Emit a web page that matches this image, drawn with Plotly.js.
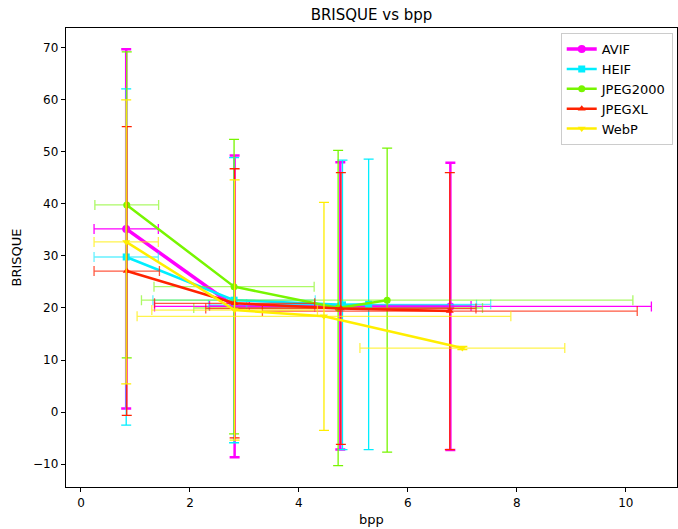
<!DOCTYPE html>
<html>
<head>
<meta charset="utf-8">
<script src="https://cdn.plot.ly/plotly-3.0.1.min.js"></script>
<style>html,body{margin:0;padding:0;background:#fff;}#chart{width:678px;height:529px;}</style>
</head>
<body>
<div id="chart"></div>
<script>
const seriesNames = ["AVIF", "HEIF", "JPEG2000", "JPEGXL", "WebP"];

const avifX = [0.83, 2.82, 4.76, 6.78];
const avifY = [35.2, 20.3, 20.4, 20.3];
const avifXErr = [0.59, 1.47, 2.4, 3.69];
const avifYErr = [34.5, 29.0, 27.6, 27.6];

const heifX = [0.83, 2.81, 4.80, 5.28];
const heifY = [29.8, 21.5, 20.6, 20.7];
const heifXErr = [0.59, 1.49, 2.46, 2.24];
const heifYErr = [32.3, 27.4, 27.8, 27.9];

const j2kX = [0.84, 2.81, 4.72, 5.62];
const j2kY = [39.8, 24.1, 20.0, 21.5];
const j2kXErr = [0.585, 1.47, 2.65, 4.51];
const j2kYErr = [29.4, 28.3, 30.3, 29.2];

const jxlX = [0.84, 2.82, 4.77, 6.77];
const jxlY = [27.1, 20.9, 19.9, 19.4];
const jxlXErr = [0.6, 1.47, 2.48, 3.44];
const jxlYErr = [27.75, 25.85, 26.1, 26.6];

const webpX = [0.83, 2.82, 4.46, 7.0];
const webpY = [32.7, 19.6, 18.4, 12.3];
const webpXErr = [0.59, 1.52, 3.43, 1.88];
const webpYErr = [27.3, 25.0, 21.9, 0.3];

const xTicks = [0, 2, 4, 6, 8, 10];
const yTicks = [-10, 0, 10, 20, 30, 40, 50, 60, 70];

function mk(name, x, y, xe, ye, color, light, symbol, msize, lw, ew) {
  return {
    type: "scatter", mode: "lines+markers", name: name,
    x: x, y: y,
    line: {color: color, width: lw},
    marker: {color: color, symbol: symbol, size: msize},
    error_x: {type: "data", array: xe, visible: true, color: light, thickness: 1.3, width: 5},
    error_y: {type: "data", array: ye, visible: true, color: color, thickness: ew, width: 5}
  };
}

const traces = [
  mk(seriesNames[0], avifX, avifY, avifXErr, avifYErr, "#ff00ff", "#ff00ff", "circle", 8, 3.5, 2.5),
  mk(seriesNames[1], heifX, heifY, heifXErr, heifYErr, "#00eeff", "rgba(0,230,255,0.6)", "square", 7, 2.5, 1.3),
  mk(seriesNames[2], j2kX, j2kY, j2kXErr, j2kYErr, "#77f500", "rgba(119,245,0,0.6)", "circle", 7, 2.5, 1.3),
  mk(seriesNames[3], jxlX, jxlY, jxlXErr, jxlYErr, "#ff2200", "rgba(255,34,0,0.75)", "triangle-up", 7, 2.5, 1.3),
  mk(seriesNames[4], webpX, webpY, webpXErr, webpYErr, "#ffee00", "rgba(255,238,0,0.7)", "triangle-down", 7, 2.5, 1.3)
];

const axisCommon = {
  showline: true, mirror: true, linecolor: "#000", linewidth: 1.2,
  ticks: "outside", ticklen: 4, tickcolor: "#000", tickwidth: 1,
  showgrid: false, zeroline: false,
  tickfont: {family: "DejaVu Sans", size: 12, color: "#000"}
};

const layout = {
  width: 678, height: 529,
  margin: {l: 66, r: 1, t: 28, b: 42},
  paper_bgcolor: "#fff", plot_bgcolor: "#fff",
  font: {family: "DejaVu Sans", color: "#000"},
  title: {text: "BRISQUE vs bpp", font: {family: "DejaVu Sans", size: 15, color: "#000"},
          x: 0.5, xref: "paper", xanchor: "center", y: 0.973, yref: "container", yanchor: "middle"},
  xaxis: Object.assign({}, axisCommon, {
    range: [-0.275, 10.94], tickvals: xTicks, ticktext: xTicks.map(String),
    title: {text: "bpp", font: {family: "DejaVu Sans", size: 13, color: "#000"}, standoff: 6}
  }),
  yaxis: Object.assign({}, axisCommon, {
    range: [-14.4, 73.8], tickvals: yTicks, ticktext: yTicks.map(v => v < 0 ? "\u2212" + Math.abs(v) : String(v)),
    title: {text: "BRISQUE", font: {family: "DejaVu Sans", size: 13, color: "#000"}, standoff: 8}
  }),
  showlegend: true,
  legend: {
    x: 0.993, y: 0.989, xanchor: "right", yanchor: "top",
    bgcolor: "rgba(255,255,255,0.8)", bordercolor: "#cccccc", borderwidth: 1,
    font: {family: "DejaVu Sans", size: 13, color: "#000"},
    itemwidth: 30, tracegroupgap: 0
  }
};

Plotly.newPlot("chart", traces, layout, {staticPlot: true, displayModeBar: false});
</script>
</body>
</html>
